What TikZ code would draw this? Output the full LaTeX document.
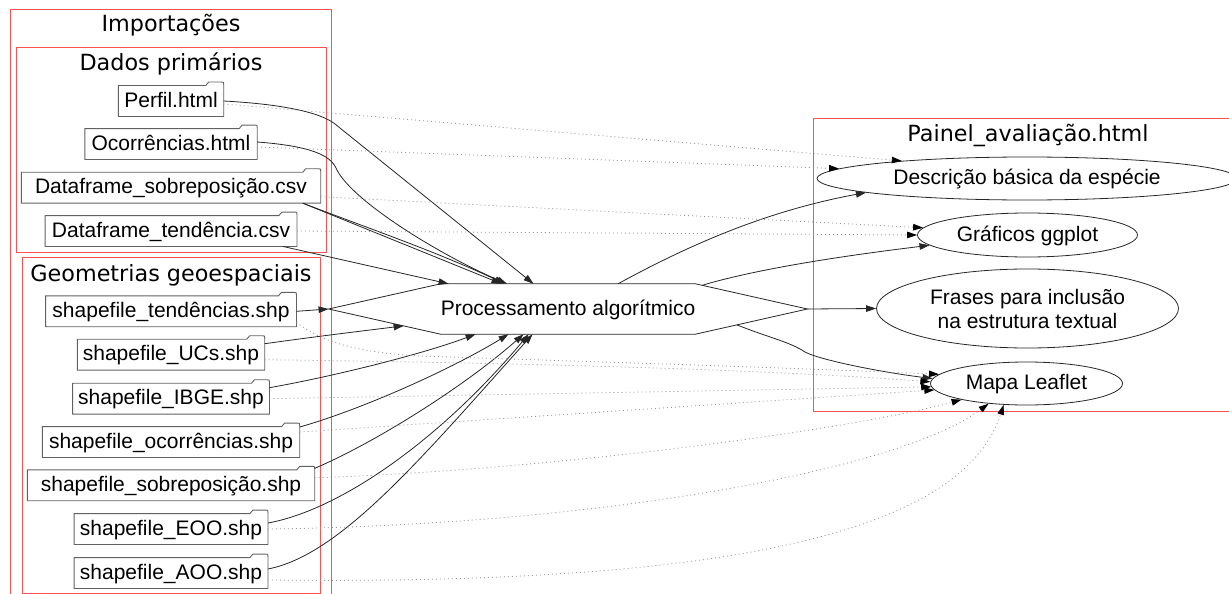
\documentclass[tikz,border=0pt]{standalone}
\usepackage{fontspec}
\setmainfont{Liberation Sans}
\newfontfamily\clusterfont{DejaVu Sans}
\usetikzlibrary{arrows.meta,shapes.geometric,calc}

\definecolor{clusterred}{RGB}{255,80,80}
\definecolor{feedgray}{RGB}{150,150,150}

\begin{document}
\begin{tikzpicture}[x=1pt,y=-1pt,
  cluster/.style={draw=clusterred,line width=1.2pt},
  clabel/.style={font=\clusterfont\fontsize{22.3}{26}\selectfont,anchor=base,inner sep=0pt},
  file/.style={rectangle,inner xsep=0pt,inner ysep=0pt,minimum height=30.5pt,
    font=\fontsize{21}{24}\selectfont,text height=16pt,text depth=3.5pt},
  boxline/.style={draw=black!62,line width=0.9pt,line join=round},
  oval/.style={ellipse,draw=black!85,line width=0.8pt,inner sep=0pt,font=\fontsize{21}{24}\selectfont},
  oneline/.style={text height=16pt,text depth=3.5pt},
  flow/.style={draw=black!85,line width=0.8pt,-{Triangle[length=10pt,width=6.5pt]}},
  feed/.style={draw=feedgray,line width=0.8pt,dash pattern=on 1pt off 3pt,
    -{Triangle[length=10pt,width=6.5pt,color=black,fill=black]}},
]
\useasboundingbox (0,0) rectangle (1229,594);

% clusters (the outer one and the panel run on past the edges of the page)
\draw[cluster] (10.5,594) -- (10.5,9.5) -- (331.5,9.5) -- (331.5,594);
\draw[cluster] (16.5,47.5) rectangle (326.5,252.5);
\draw[cluster] (22.5,257.5) rectangle (320.5,593.5);
\draw[cluster] (1229,118.5) -- (813.5,118.5) -- (813.5,411.5) -- (1229,411.5);

\node[clabel] (limp) at (171,32) {Importações};
\node[clabel] (ldados) at (171,70.7) {Dados primários};
\node[clabel] (lgeo) at (171,281) {Geometrias geoespaciais};
\node[clabel] (lpainel) at (1028,141.5) {Painel\_avaliação.html};

% input files
\node[file,minimum width=105pt]   (perfil)  at (171,101)   {Perfil.html};
\node[file,minimum width=172pt]   (ocorr)   at (171,144)   {Ocorrências.html};
\node[file,minimum width=299pt]   (dfsobre) at (171,187.7) {Dataframe\_sobreposição.csv};
\node[file,minimum width=251.5pt] (dftend)  at (171,231)   {Dataframe\_tendência.csv};
\node[file,minimum width=250.5pt] (shtend)  at (171,311.3) {shapefile\_tendências.shp};
\node[file,minimum width=187pt]   (shucs)   at (171,354.7) {shapefile\_UCs.shp};
\node[file,minimum width=196.5pt] (shibge)  at (171,398.7) {shapefile\_IBGE.shp};
\node[file,minimum width=257pt]   (shocorr) at (171,442)   {shapefile\_ocorrências.shp};
\node[file,minimum width=287pt]   (shsobre) at (171,485.3) {shapefile\_sobreposição.shp};
\node[file,minimum width=193.5pt] (sheoo)   at (171,529)   {shapefile\_EOO.shp};
\node[file,minimum width=193.5pt] (shaoo)   at (171,573)   {shapefile\_AOO.shp};

% folder outlines with the tab on the top right
\foreach \n in {perfil,ocorr,dfsobre,dftend,shtend,shucs,shibge,shocorr,shsobre,sheoo,shaoo}{
  \draw[boxline] (\n.south west) -- (\n.north west) -- ([xshift=-18pt]\n.north east)
    -- ([xshift=-15pt,yshift=3.5pt]\n.north east) -- ([xshift=-2.5pt,yshift=3.5pt]\n.north east)
    .. controls ([yshift=3.5pt]\n.north east) .. ([yshift=1pt]\n.north east)
    -- (\n.south east) -- cycle;
}

% processing hexagon
\node[minimum width=226pt,minimum height=50pt,inner sep=0pt,oneline,
  font=\fontsize{21}{24}\selectfont] (proc) at (568,309) {Processamento algorítmico};
\coordinate (procL) at ([xshift=-112pt]proc.west);
\coordinate (procR) at ([xshift=112pt]proc.east);
\draw[draw=black!85,line width=0.8pt] (proc.north west) -- (proc.north east) -- (procR)
  -- (proc.south east) -- (proc.south west) -- (procL) -- cycle;

% outputs
\node[oval,oneline,minimum width=420pt,minimum height=43pt] (desc) at (1027,178.5) {Descrição básica da espécie};
\node[oval,oneline,minimum width=220pt,minimum height=44pt] (graf) at (1027.5,235) {Gráficos ggplot};
\node[oval,align=center,minimum width=302pt,minimum height=79pt] (frases) at (1027.5,308.5) {Frases para inclusão\\na estrutura textual};
\node[oval,oneline,minimum width=192pt,minimum height=43pt] (mapa) at (1026.5,383.5) {Mapa Leaflet};

% primary data into processing
\draw[flow] (perfil.east) .. controls (280,104) and (320,112) .. (335,124)
  -- ([xshift=-34.5pt]proc.north);
\draw[flow] ([yshift=2pt]ocorr.east) .. controls (310,146) and (330,155) .. (336,168)
  .. controls (350,200) and (440,255) .. ([xshift=-61pt]proc.north);
\draw[flow] ([xshift=-18pt]dfsobre.south east) .. controls (365,227) and (440,253) .. ([xshift=-63.5pt]proc.north);
\draw[flow] ([xshift=-18pt]dfsobre.south east) -- ([xshift=-66.5pt]proc.north);
\draw[flow] ([xshift=-14pt]dftend.south east) -- ([xshift=8pt]proc.north west);

% geometries into processing
\draw[flow] (shtend.east) -- (procL);
\draw[flow] ([yshift=11pt]shucs.east) .. controls (320,336) and (370,330) .. ($(procL)!0.67!(proc.south west)$);
\draw[flow] ([yshift=11pt]shibge.east) .. controls (330,377) and (420,355) .. ([xshift=35pt]proc.south west);
\draw[flow] ([yshift=15pt]shocorr.east) .. controls (360,410) and (450,370) .. ([xshift=68pt]proc.south west);
\draw[flow] ([yshift=17pt]shsobre.east) .. controls (370,445) and (460,390) .. ([xshift=83pt]proc.south west);
\draw[flow] ([yshift=6pt]sheoo.east) .. controls (340,510) and (440,440) .. ([xshift=88pt]proc.south west);
\draw[flow] ([yshift=4pt]shaoo.east) .. controls (340,555) and (420,460) .. ([xshift=92pt]proc.south west);

% processing into the panel
\draw[flow] ([xshift=50pt]proc.north) .. controls (680,250) and (760,212) .. (desc.185.3);
\draw[flow] ($(proc.north east)!0.06!(procR)$) .. controls (760,268) and (850,255) .. (graf.186.6);
\draw[flow] (procR) -- (frases.west);
\draw[flow] ($(procR)!0.63!(proc.south east)$) .. controls (770,338) and (790,342) .. (805,352)
  .. controls (820,360) and (880,372) .. (mapa.177.5);

% direct use of the inputs in the panel
\draw[feed] ([yshift=-3pt]perfil.east) -- (desc.172.7);
\draw[feed] ([yshift=-3pt]ocorr.east) -- (desc.177.6);
\draw[feed] ([yshift=-9pt]dfsobre.east) -- (graf.176.3);
\draw[feed] (dftend.east) -- (graf.180);
\draw[feed] ([yshift=-11pt]shtend.east) .. controls (320,340) and (350,352) .. (420,356)
  .. controls (600,362) and (800,368) .. (mapa.174);
\draw[feed] ([yshift=-5pt]shucs.east) .. controls (600,364) and (800,372) .. (mapa.179);
\draw[feed] (shibge.east) -- (mapa.182);
\draw[feed] ([yshift=10pt]shocorr.east) -- (mapa.184);
\draw[feed] ([yshift=7.5pt]shsobre.east) .. controls (550,470) and (850,430) .. (mapa.194);
\draw[feed] (sheoo.east) .. controls (600,525) and (900,470) .. (mapa.208);
\draw[feed] ([yshift=-7pt]shaoo.east) .. controls (700,585) and (960,540) .. (mapa.223);
\end{tikzpicture}
\end{document}
